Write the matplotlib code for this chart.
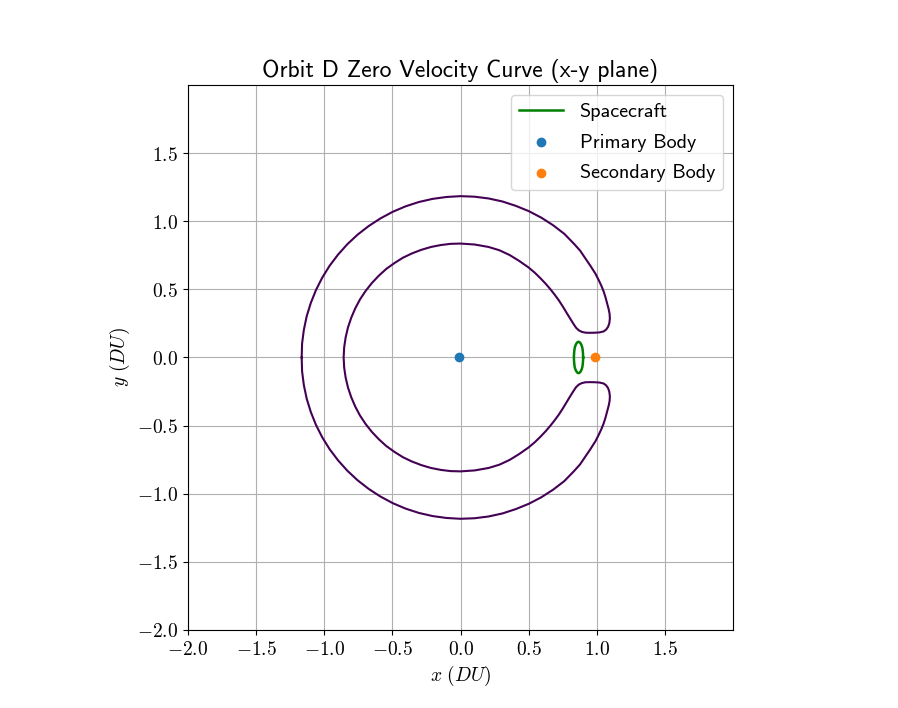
import numpy as np
import matplotlib
matplotlib.use("Agg")
import matplotlib.pyplot as plt

plt.rcParams['mathtext.fontset'] = 'cm'

# zero velocity curve, upper half (y >= 0): outer edge from the left,
# round the tip near the secondary, then the inner edge back to the left.
# the lower half is its mirror image
zvc_x = [-1.166, -1.163, -1.150, -1.129, -1.099, -1.061, -1.015, -0.961, -0.899, -0.831,
         -0.756, -0.675, -0.589, -0.498, -0.404, -0.306, -0.205, -0.103, 0.0,
         0.103, 0.206, 0.307, 0.405, 0.501, 0.593, 0.680, 0.762, 0.831, 0.877, 0.917,
         0.955, 0.990, 1.015, 1.034, 1.049, 1.063, 1.076, 1.087, 1.094, 1.096, 1.092,
         1.083, 1.068, 1.050, 1.020, 0.990, 0.950, 0.917, 0.890, 0.868, 0.848, 0.831,
         0.807, 0.782, 0.752, 0.721, 0.690, 0.660, 0.625, 0.586, 0.545, 0.500, 0.430,
         0.360, 0.285, 0.206, 0.104, 0.0,
         -0.073, -0.146, -0.217, -0.288, -0.356, -0.423, -0.485, -0.545, -0.600, -0.651,
         -0.697, -0.738, -0.773, -0.802, -0.826, -0.843, -0.854, -0.858]
zvc_y = [0.0, 0.102, 0.203, 0.303, 0.400, 0.495, 0.586, 0.673, 0.755, 0.831,
         0.901, 0.964, 1.020, 1.069, 1.109, 1.141, 1.164, 1.178, 1.184,
         1.180, 1.167, 1.145, 1.113, 1.074, 1.026, 0.970, 0.907, 0.836, 0.785, 0.726,
         0.670, 0.615, 0.566, 0.525, 0.488, 0.445, 0.395, 0.355, 0.320, 0.285, 0.252,
         0.225, 0.204, 0.191, 0.184, 0.182, 0.181, 0.182, 0.188, 0.199, 0.218, 0.243,
         0.281, 0.322, 0.372, 0.420, 0.462, 0.500, 0.541, 0.582, 0.622, 0.660, 0.709,
         0.752, 0.787, 0.811, 0.829, 0.836,
         0.834, 0.825, 0.811, 0.790, 0.764, 0.732, 0.693, 0.650, 0.600, 0.546,
         0.488, 0.426, 0.360, 0.292, 0.221, 0.149, 0.075, 0.0]

# spacecraft orbit near L1, upper half
sc_x = [0.900, 0.899, 0.897, 0.894, 0.890, 0.884, 0.878, 0.872, 0.866,
        0.860, 0.854, 0.848, 0.842, 0.838, 0.835, 0.833, 0.832]
sc_y = [0.0, 0.025, 0.05, 0.07, 0.085, 0.098, 0.108, 0.113, 0.115,
        0.113, 0.108, 0.098, 0.085, 0.07, 0.05, 0.025, 0.0]

primary = (-0.012, 0.0)
secondary = (0.988, 0.0)

ticks = [-2.0, -1.5, -1.0, -0.5, 0.0, 0.5, 1.0, 1.5]
tick_labels = [r'$%.1f$' % t for t in ticks]


def closed(xs, ys):
    # upper half, then the mirrored lower half back to the start
    x = list(xs) + list(xs[::-1])[1:]
    y = list(ys) + [-v for v in ys[::-1]][1:]
    return x, y


fig = plt.figure(figsize=(8.98, 7.08), dpi=100)
ax = fig.add_axes([0.2094, 0.1102, 0.6069, 0.7698])

zx, zy = closed(zvc_x, zvc_y)
ax.plot(zx, zy, color='#440154', lw=1.5, solid_joinstyle='round')

sx, sy = closed(sc_x, sc_y)
ax.plot(sx, sy, color='green', lw=1.8, solid_joinstyle='round', label='Spacecraft')

ax.scatter([primary[0]], [primary[1]], color='C0', label='Primary Body', zorder=3)
ax.scatter([secondary[0]], [secondary[1]], color='C1', label='Secondary Body', zorder=3)

ax.set_xlim(-2, 2)
ax.set_ylim(-2, 2)
ax.set_aspect('equal')
ax.set_xticks(ticks, tick_labels, fontsize=14)
ax.set_yticks(ticks, tick_labels, fontsize=14)
ax.grid(True)

ax.set_xlabel(r'$x\ (DU)$', fontsize=14)
ax.set_ylabel(r'$y\ (DU)$', fontsize=14)
ax.set_title('Orbit D Zero Velocity Curve (x-y plane)', fontsize=17, family='cmss10')
ax.legend(loc='upper right', prop={'family': 'cmss10', 'size': 14.5},
          labelspacing=0.62, handlelength=2.2)

fig.savefig('out.png')
